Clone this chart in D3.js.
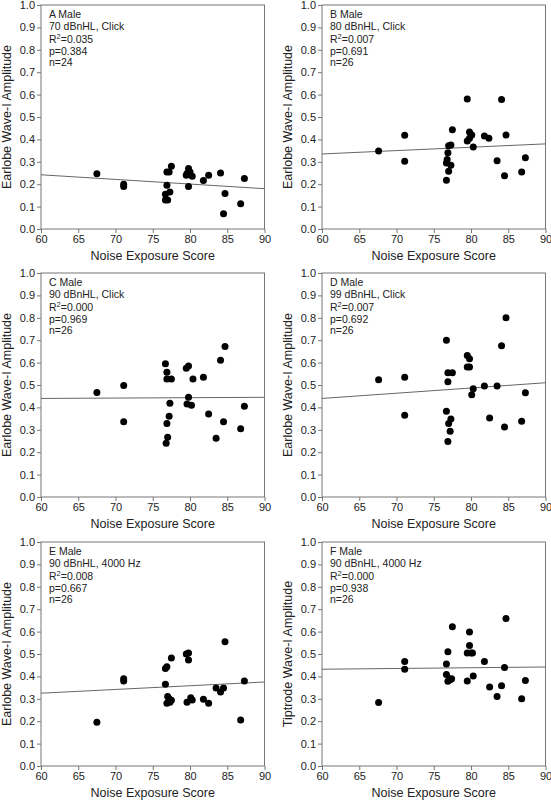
<!DOCTYPE html>
<html><head><meta charset="utf-8">
<script src="https://cdn.jsdelivr.net/npm/d3@7"></script>
<style>body{margin:0;background:#fff}svg{display:block}</style>
</head><body>
<script>
const xTicks = [60,65,70,75,80,85,90];
const yTicks = [0,0.1,0.2,0.3,0.4,0.5,0.6,0.7,0.8,0.9,1.0];
const xTitle = "Noise Exposure Score";

const panelA = [[67.5,0.247],[71.1,0.20],[71.1,0.19],[76.9,0.255],[77.2,0.255],[77.5,0.28],[76.9,0.195],[77.3,0.165],[76.7,0.155],[76.7,0.13],[77.0,0.13],[79.6,0.248],[79.8,0.27],[80.0,0.255],[80.3,0.235],[79.8,0.19],[79.5,0.24],[81.8,0.217],[82.5,0.24],[84.1,0.25],[84.7,0.158],[84.5,0.068],[86.8,0.113],[87.3,0.225]];
const panelB = [[67.6,0.348],[71.1,0.418],[71.1,0.303],[76.7,0.218],[76.7,0.295],[76.8,0.31],[76.9,0.34],[77.0,0.372],[77.0,0.258],[77.3,0.375],[77.3,0.285],[77.5,0.443],[79.5,0.58],[79.5,0.393],[79.8,0.433],[79.8,0.405],[80.1,0.42],[80.3,0.366],[81.8,0.415],[82.4,0.405],[83.5,0.305],[84.1,0.578],[84.5,0.238],[84.7,0.42],[86.8,0.255],[87.3,0.318]];
const panelC = [[67.5,0.467],[71.1,0.498],[71.1,0.336],[76.7,0.595],[76.9,0.557],[76.9,0.527],[77.5,0.527],[77.3,0.418],[77.2,0.36],[76.9,0.328],[77.0,0.267],[76.8,0.24],[79.5,0.575],[79.8,0.585],[79.8,0.445],[79.6,0.415],[80.2,0.41],[80.4,0.527],[81.8,0.535],[82.5,0.37],[83.5,0.262],[84.1,0.61],[84.7,0.672],[84.5,0.336],[86.8,0.305],[87.3,0.405]];
const panelD = [[67.6,0.523],[71.1,0.535],[71.1,0.365],[76.7,0.70],[76.9,0.555],[77.5,0.555],[76.9,0.515],[76.7,0.383],[77.3,0.348],[77.0,0.328],[77.2,0.293],[76.9,0.248],[79.5,0.632],[79.8,0.617],[79.5,0.58],[79.8,0.58],[80.3,0.483],[80.1,0.457],[81.8,0.495],[82.5,0.353],[83.5,0.495],[84.1,0.675],[84.7,0.80],[84.5,0.313],[86.8,0.338],[87.3,0.465]];
const panelE = [[67.5,0.195],[71.1,0.39],[71.1,0.38],[76.7,0.435],[76.9,0.443],[77.5,0.482],[76.7,0.365],[77.0,0.31],[77.2,0.30],[77.5,0.293],[76.9,0.28],[77.3,0.285],[79.5,0.50],[79.8,0.505],[79.8,0.473],[79.6,0.285],[80.1,0.305],[80.3,0.295],[81.8,0.298],[82.5,0.28],[83.5,0.348],[84.1,0.33],[84.5,0.348],[84.7,0.555],[86.8,0.205],[87.3,0.38]];
const panelF = [[67.6,0.283],[71.1,0.467],[71.1,0.432],[76.7,0.455],[76.9,0.51],[77.5,0.622],[76.7,0.408],[76.9,0.378],[77.1,0.39],[77.4,0.39],[77.2,0.385],[79.5,0.505],[79.8,0.598],[79.8,0.538],[80.0,0.505],[80.2,0.505],[79.5,0.38],[80.3,0.402],[81.8,0.467],[82.5,0.353],[83.5,0.31],[84.1,0.358],[84.5,0.44],[84.7,0.658],[86.8,0.30],[87.3,0.382]];

// regression line endpoints (value at x=60 and at x=90)
const fitLines = [[0.242,0.180],[0.335,0.380],[0.440,0.445],[0.440,0.510],[0.325,0.375],[0.432,0.442]];
const labels = ["A Male","B Male","C Male","D Male","E Male","F Male"];
const stimuli = ["70 dBnHL, Click","80 dBnHL, Click","90 dBnHL, Click","99 dBnHL, Click","90 dBnHL, 4000 Hz","90 dBnHL, 4000 Hz"];
const r2 = ["0.035","0.007","0.000","0.007","0.008","0.000"];
const pvals = ["0.384","0.691","0.969","0.692","0.667","0.938"];
const nvals = ["24","26","26","26","26","26"];
const yTitles = ["Earlobe Wave-I Amplitude","Earlobe Wave-I Amplitude","Earlobe Wave-I Amplitude","Earlobe Wave-I Amplitude","Earlobe Wave-I Amplitude","Tiptrode Wave-I Amplitude"];
const panels = [panelA,panelB,panelC,panelD,panelE,panelF];

const W = 551, H = 800;
const svg = d3.select("body").append("svg").attr("width",W).attr("height",H)
  .style("font-family","'Liberation Sans', Arial, sans-serif");

const lefts = [41,322];
const tops = [5,273,542];
const pw = 223.5, ph = 224;
const axisColor = "#777";

panels.forEach((data,i)=>{
  const col = i%2, row = Math.floor(i/2);
  const g = svg.append("g").attr("transform",`translate(${lefts[col]},${tops[row]})`);
  const x = d3.scaleLinear().domain([60,90]).range([0,pw]);
  const y = d3.scaleLinear().domain([0,1]).range([ph,0]);

  const xa = g.append("g").attr("transform",`translate(0,${ph})`)
    .call(d3.axisBottom(x).tickValues(xTicks).tickSize(4).tickPadding(2).tickFormat(d3.format("d")));
  const ya = g.append("g")
    .call(d3.axisLeft(y).tickValues(yTicks).tickSize(4).tickPadding(2).tickFormat(d3.format(".1f")));
  [xa,ya].forEach(a=>{
    a.select(".domain").remove();
    a.selectAll("line").attr("stroke",axisColor);
    a.selectAll("text").attr("fill","#222").style("font-size","11px");
  });
  g.append("rect").attr("width",pw).attr("height",ph).attr("fill","none").attr("stroke",axisColor).attr("stroke-width",1);

  g.append("line")
    .attr("x1",x(60)).attr("y1",y(fitLines[i][0]))
    .attr("x2",x(90)).attr("y2",y(fitLines[i][1]))
    .attr("stroke","#666").attr("stroke-width",1);

  g.selectAll("circle").data(data).join("circle")
    .attr("cx",d=>x(d[0])).attr("cy",d=>y(d[1])).attr("r",3.5).attr("fill","#000");

  const t = g.append("g").attr("transform","translate(8,0)").attr("fill","#222").style("font-size","10.5px");
  t.append("text").attr("y",13).text(labels[i]);
  t.append("text").attr("y",25).text(stimuli[i]);
  const rt = t.append("text").attr("y",38);
  rt.append("tspan").text("R");
  rt.append("tspan").attr("dy",-4).style("font-size","7.5px").text("2");
  rt.append("tspan").attr("dy",4).text("="+r2[i]);
  t.append("text").attr("y",49.5).text("p="+pvals[i]);
  t.append("text").attr("y",61).text("n="+nvals[i]);

  g.append("text").attr("x",pw/2).attr("y",ph+31).attr("text-anchor","middle")
    .attr("fill","#222").style("font-size","12.5px").text(xTitle);
  g.append("text").attr("transform",`translate(-30,${ph/2}) rotate(-90)`).attr("text-anchor","middle")
    .attr("fill","#222").style("font-size","12.5px").text(yTitles[i]);
});
</script>
</body></html>
